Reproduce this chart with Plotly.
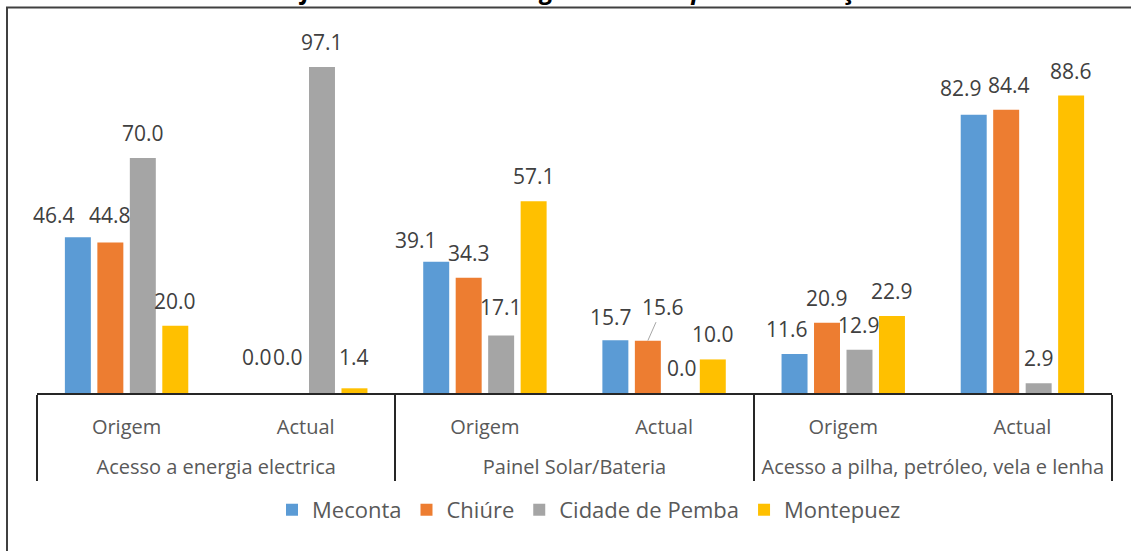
import plotly.graph_objects as go

# ---- data ----
groups = ["Acesso a energia electrica", "Painel Solar/Bateria",
          "Acesso a pilha, petróleo, vela e lenha"]
periods = ["Origem", "Actual"]
series_names = ["Meconta", "Chiúre", "Cidade de Pemba", "Montepuez"]
meconta = [46.4, 0.0, 39.1, 15.7, 11.6, 82.9]
chiure = [44.8, 0.0, 34.3, 15.6, 20.9, 84.4]
pemba = [70.0, 97.1, 17.1, 0.0, 12.9, 2.9]
montepuez = [20.0, 1.4, 57.1, 10.0, 22.9, 88.6]
title_text = "Gráfico 4: Acesso à energia eléctrica para iluminação"

series_values = [meconta, chiure, pemba, montepuez]
colors = ["#5B9BD5", "#ED7D31", "#A5A5A5", "#FFC000"]

outer = ["<br>" + g for g in groups for _ in periods]
inner = [p for _ in groups for p in periods]

# label nudges (px) for manually-placed data labels: (series, category) -> (dx, dy)
label_nudge = {
    (0, 0): (-24, 22), (1, 0): (0, 28),
    (0, 1): (0, 36), (1, 1): (-2, 36), (3, 1): (0, 31),
    (0, 2): (-20, 22), (2, 2): (0, 29),
    (0, 3): (-4, 23), (2, 3): (2, 25),
    (0, 4): (-8, 25),
    (0, 5): (-13, 27), (1, 5): (3, 25),
}
leader = {(1, 3): (15, -34)}
default_dy = 25

BARGAP = 0.275
BARGROUPGAP = 0.2
FONT = "Open Sans"

fig = go.Figure()
for k, (name, vals, col) in enumerate(zip(series_names, series_values, colors)):
    fig.add_trace(go.Bar(
        name=name, x=[outer, inner], y=vals, marker_color=col,
        marker_line_width=0, hoverinfo="skip",
    ))

# invisible helper trace for overlay linear axis used by labels
fig.add_trace(go.Scatter(x=[], y=[], xaxis="x2", showlegend=False, hoverinfo="skip"))

n_series = len(series_names)
slot = (1 - BARGAP) / n_series
annotations = []
for k, vals in enumerate(series_values):
    for i, v in enumerate(vals):
        xc = i + (k - (n_series - 1) / 2) * slot
        txt = f"{v:.1f}"
        if (k, i) in leader:
            ax_, ay_ = leader[(k, i)]
            annotations.append(dict(
                x=xc, y=v, xref="x2", yref="y", text=txt, showarrow=True,
                arrowhead=0, arrowwidth=1, arrowcolor="#A6A6A6", ax=ax_, ay=ay_,
                standoff=0, font=dict(family=FONT, size=21, color="#404040"),
            ))
            continue
        dx, dy = label_nudge.get((k, i), (0, default_dy))
        annotations.append(dict(
            x=xc, y=v, xref="x2", yref="y", text=txt, showarrow=False,
            xshift=dx, yshift=dy, yanchor="middle", xanchor="center",
            font=dict(family=FONT, size=21, color="#404040"),
        ))

# title (mostly cut off at the top edge, as in the reference)
annotations.append(dict(
    x=0.5, y=1, xref="paper", yref="paper", text="<b><i>" + title_text + "</i></b>",
    showarrow=False, yanchor="bottom", yshift=9, xanchor="center", xshift=-3,
    font=dict(family=FONT, size=25, color="#000000"),
))

fig.update_layout(
    width=1131, height=551,
    margin=dict(l=37, r=19, t=17, b=158),
    paper_bgcolor="white", plot_bgcolor="white",
    barmode="group", bargap=BARGAP, bargroupgap=BARGROUPGAP,
    font=dict(family=FONT, color="#595959"),
    showlegend=True,
    legend=dict(orientation="h", x=0.5135, xanchor="center", y=-0.311, yanchor="middle",
                font=dict(family=FONT, size=22, color="#595959"),
                itemwidth=30, traceorder="normal"),
    annotations=annotations,
    xaxis=dict(
        type="multicategory", range=[-0.5, 5.5],
        showline=True, linecolor="#262626", linewidth=2,
        showgrid=False, zeroline=False, ticks="",
        ticklabelstandoff=15,
        showdividers=True, dividercolor="#262626", dividerwidth=2,
        tickfont=dict(family=FONT, size=20, color="#595959"),
    ),
    xaxis2=dict(overlaying="x", range=[-0.5, 5.5], visible=False, anchor="y"),
    yaxis=dict(range=[0, 112], visible=False, showgrid=False, zeroline=False),
    shapes=[dict(type="rect", xref="paper", yref="paper",
                 x0=(7 - 37) / 1075, x1=1.2, y0=-0.6, y1=(393 - 7.5) / 376,
                 line=dict(color="#404040", width=2), fillcolor="rgba(0,0,0,0)",
                 layer="above")],
)

fig.write_html("out.html", config={"displayModeBar": False},
               post_script="document.body.style.margin='0';document.body.style.overflow='hidden';")
